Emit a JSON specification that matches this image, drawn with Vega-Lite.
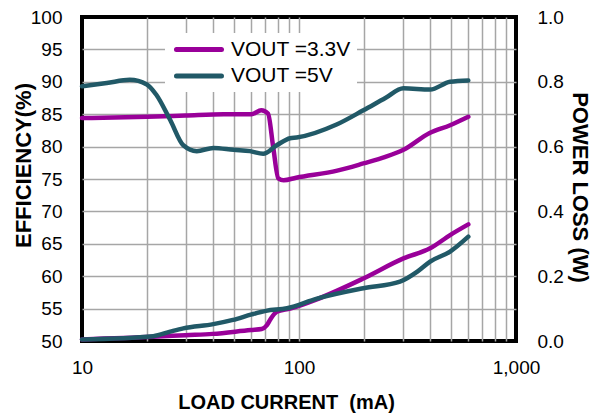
{
  "$schema": "https://vega.github.io/schema/vega-lite/v6.json",
  "width": 434,
  "height": 324,
  "autosize": {"type": "none"},
  "padding": {"left": 82, "top": 17, "right": 79, "bottom": 74},
  "background": "white",
  "config": {
    "font": "Liberation Sans",
    "view": {"stroke": "black", "strokeWidth": 4},
    "axis": {
      "labelFontSize": 19,
      "labelColor": "black",
      "titleFontSize": 20,
      "titleFontWeight": "bold",
      "titleColor": "black",
      "ticks": false,
      "tickSize": 0,
      "domain": false,
      "gridColor": "#A6A6A6",
      "gridWidth": 1.5,
      "labelFlush": false
    },
    "legend": {
      "labelFontSize": 21,
      "labelColor": "black",
      "labelFont": "Liberation Sans"
    }
  },
  "layer": [
    {
      "data": {
        "values": [
          {"I": 10, "vout": "VOUT =3.3V", "eff": 84.4},
          {"I": 20, "vout": "VOUT =3.3V", "eff": 84.6},
          {"I": 30, "vout": "VOUT =3.3V", "eff": 84.8},
          {"I": 45, "vout": "VOUT =3.3V", "eff": 85.0},
          {"I": 60.5, "vout": "VOUT =3.3V", "eff": 85.0},
          {"I": 67, "vout": "VOUT =3.3V", "eff": 85.6},
          {"I": 72, "vout": "VOUT =3.3V", "eff": 85.1},
          {"I": 76, "vout": "VOUT =3.3V", "eff": 80.0},
          {"I": 80.3, "vout": "VOUT =3.3V", "eff": 75.1},
          {"I": 85, "vout": "VOUT =3.3V", "eff": 74.8},
          {"I": 97, "vout": "VOUT =3.3V", "eff": 75.2},
          {"I": 150, "vout": "VOUT =3.3V", "eff": 76.3},
          {"I": 198, "vout": "VOUT =3.3V", "eff": 77.4},
          {"I": 250, "vout": "VOUT =3.3V", "eff": 78.4},
          {"I": 303, "vout": "VOUT =3.3V", "eff": 79.5},
          {"I": 400, "vout": "VOUT =3.3V", "eff": 82.1},
          {"I": 497, "vout": "VOUT =3.3V", "eff": 83.3},
          {"I": 603, "vout": "VOUT =3.3V", "eff": 84.6},
          {"I": 10, "vout": "VOUT =5V", "eff": 89.3},
          {"I": 13, "vout": "VOUT =5V", "eff": 89.8},
          {"I": 16.6, "vout": "VOUT =5V", "eff": 90.3},
          {"I": 19.9, "vout": "VOUT =5V", "eff": 89.6},
          {"I": 22, "vout": "VOUT =5V", "eff": 88.0},
          {"I": 25.5, "vout": "VOUT =5V", "eff": 84.1},
          {"I": 29.3, "vout": "VOUT =5V", "eff": 80.2},
          {"I": 33.8, "vout": "VOUT =5V", "eff": 79.3},
          {"I": 40.3, "vout": "VOUT =5V", "eff": 79.8},
          {"I": 50, "vout": "VOUT =5V", "eff": 79.5},
          {"I": 59.4, "vout": "VOUT =5V", "eff": 79.3},
          {"I": 68.4, "vout": "VOUT =5V", "eff": 78.9},
          {"I": 78.9, "vout": "VOUT =5V", "eff": 80.2},
          {"I": 91, "vout": "VOUT =5V", "eff": 81.3},
          {"I": 97.5, "vout": "VOUT =5V", "eff": 81.4},
          {"I": 149, "vout": "VOUT =5V", "eff": 83.4},
          {"I": 198, "vout": "VOUT =5V", "eff": 85.6},
          {"I": 250, "vout": "VOUT =5V", "eff": 87.5},
          {"I": 303, "vout": "VOUT =5V", "eff": 89.0},
          {"I": 402, "vout": "VOUT =5V", "eff": 88.8},
          {"I": 497, "vout": "VOUT =5V", "eff": 90.0},
          {"I": 603, "vout": "VOUT =5V", "eff": 90.2}
        ]
      },
      "mark": {"type": "line", "interpolate": "monotone", "strokeWidth": 4.5, "strokeCap": "round"},
      "encoding": {
        "x": {
          "field": "I", "type": "quantitative",
          "scale": {"type": "log", "domain": [10, 1000]},
          "axis": {
            "title": "LOAD CURRENT \u00a0(mA)",
            "values": [10, 20, 30, 40, 50, 60, 70, 80, 90, 100, 200, 300, 400, 500, 600, 700, 800, 900, 1000],
            "labelExpr": "datum.value == 10 || datum.value == 100 || datum.value == 1000 ? format(datum.value, ',') : ''",
            "labelPadding": 17,
            "titlePadding": 15,
            "titleX": 204,
            "gridOpacity": {"condition": {"test": "datum.value == 10 || datum.value == 1000", "value": 0}, "value": 1}
          }
        },
        "y": {
          "field": "eff", "type": "quantitative",
          "scale": {"domain": [50, 100]},
          "axis": {
            "title": "EFFICIENCY(%)",
            "titleFontSize": 22,
            "values": [50, 55, 60, 65, 70, 75, 80, 85, 90, 95, 100],
            "labelPadding": 20,
            "titlePadding": -5,
            "titleY": 148,
            "gridOpacity": {"condition": {"test": "datum.value == 50 || datum.value == 100", "value": 0}, "value": 1}
          }
        },
        "color": {
          "field": "vout", "type": "nominal",
          "scale": {"domain": ["VOUT =3.3V", "VOUT =5V"], "range": ["#990099", "#215967"]},
          "legend": {
            "title": null,
            "orient": "none",
            "legendX": 83,
            "legendY": 16,
            "fillColor": "white",
            "padding": 6,
            "symbolType": "M-0.667,0H5.333",
            "symbolSize": 225,
            "symbolStrokeWidth": 5,
            "symbolFillColor": "transparent",
            "labelOffset": 39,
            "rowPadding": 4.5,
            "encode": {"symbols": {"update": {"strokeCap": {"value": "round"}}}}
          }
        }
      }
    },
    {
      "data": {
        "values": [
          {"I": 10, "vout": "VOUT =3.3V", "loss": 0.005},
          {"I": 21.3, "vout": "VOUT =3.3V", "loss": 0.013},
          {"I": 30, "vout": "VOUT =3.3V", "loss": 0.018},
          {"I": 40, "vout": "VOUT =3.3V", "loss": 0.022},
          {"I": 60, "vout": "VOUT =3.3V", "loss": 0.034},
          {"I": 67.3, "vout": "VOUT =3.3V", "loss": 0.037},
          {"I": 71, "vout": "VOUT =3.3V", "loss": 0.048},
          {"I": 74, "vout": "VOUT =3.3V", "loss": 0.068},
          {"I": 79, "vout": "VOUT =3.3V", "loss": 0.09},
          {"I": 91, "vout": "VOUT =3.3V", "loss": 0.10},
          {"I": 120, "vout": "VOUT =3.3V", "loss": 0.128},
          {"I": 198, "vout": "VOUT =3.3V", "loss": 0.193},
          {"I": 303, "vout": "VOUT =3.3V", "loss": 0.255},
          {"I": 402, "vout": "VOUT =3.3V", "loss": 0.286},
          {"I": 497, "vout": "VOUT =3.3V", "loss": 0.327},
          {"I": 603, "vout": "VOUT =3.3V", "loss": 0.36},
          {"I": 10, "vout": "VOUT =5V", "loss": 0.005},
          {"I": 21.3, "vout": "VOUT =5V", "loss": 0.015},
          {"I": 25.5, "vout": "VOUT =5V", "loss": 0.029},
          {"I": 29.3, "vout": "VOUT =5V", "loss": 0.039},
          {"I": 40.3, "vout": "VOUT =5V", "loss": 0.052},
          {"I": 49.6, "vout": "VOUT =5V", "loss": 0.065},
          {"I": 60.5, "vout": "VOUT =5V", "loss": 0.082},
          {"I": 70.5, "vout": "VOUT =5V", "loss": 0.093},
          {"I": 88, "vout": "VOUT =5V", "loss": 0.101},
          {"I": 121, "vout": "VOUT =5V", "loss": 0.131},
          {"I": 198, "vout": "VOUT =5V", "loss": 0.163},
          {"I": 292, "vout": "VOUT =5V", "loss": 0.183},
          {"I": 351, "vout": "VOUT =5V", "loss": 0.214},
          {"I": 402, "vout": "VOUT =5V", "loss": 0.245},
          {"I": 497, "vout": "VOUT =5V", "loss": 0.276},
          {"I": 603, "vout": "VOUT =5V", "loss": 0.322}
        ]
      },
      "mark": {"type": "line", "interpolate": "monotone", "strokeWidth": 4.5, "strokeCap": "round"},
      "encoding": {
        "x": {"field": "I", "type": "quantitative", "scale": {"type": "log", "domain": [10, 1000]}},
        "y": {
          "field": "loss", "type": "quantitative",
          "scale": {"domain": [0, 1]},
          "axis": {
            "orient": "right",
            "title": "POWER LOSS (W)",
            "titleFontSize": 22,
            "values": [0, 0.2, 0.4, 0.6, 0.8, 1.0],
            "format": ".1f",
            "grid": false,
            "labelPadding": 21,
            "titlePadding": 4,
            "titleY": 170
          }
        },
        "color": {
          "field": "vout", "type": "nominal",
          "scale": {"domain": ["VOUT =3.3V", "VOUT =5V"], "range": ["#990099", "#215967"]},
          "legend": {
            "title": null,
            "orient": "none",
            "legendX": 83,
            "legendY": 16,
            "fillColor": "white",
            "padding": 6,
            "symbolType": "M-0.667,0H5.333",
            "symbolSize": 225,
            "symbolStrokeWidth": 5,
            "symbolFillColor": "transparent",
            "labelOffset": 39,
            "rowPadding": 4.5,
            "encode": {"symbols": {"update": {"strokeCap": {"value": "round"}}}}
          }
        }
      }
    }
  ],
  "resolve": {"scale": {"y": "independent"}}
}
